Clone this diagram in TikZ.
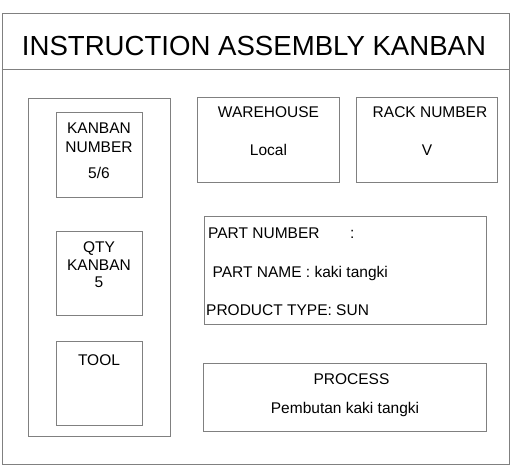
\documentclass[tikz,border=0pt]{standalone}
\usepackage{fontspec}
\setmainfont{Liberation Sans}
\begin{document}
\begin{tikzpicture}[x=1pt,y=-1pt,
  box/.style={draw=black!50, line width=1pt, inner sep=0pt, anchor=north west},
  lbl/.style={inner sep=0pt, font=\fontsize{15.5}{17}\selectfont, anchor=base},
  lblw/.style={lbl, anchor=base west}]
\useasboundingbox (0,0) rectangle (512,474);
% outer frame
\node[box, minimum width=507pt, minimum height=451pt] (frame) at (1.5,13) {};
\draw[draw=black!50, line width=1pt] (frame.west |- 0,69) coordinate (hl) -- (frame.east |- 0,69) coordinate (hr);
\node[inner sep=0pt, anchor=base, font=\fontsize{27.6}{30}\selectfont] (title) at (254,55) {INSTRUCTION ASSEMBLY KANBAN};
% left panel
\node[box, minimum width=142pt, minimum height=338pt] (left) at (28,98) {};
\node[box, minimum width=86pt, minimum height=85pt] (kn) at (56,112) {};
\node[lbl] (kn1) at (99,133) {KANBAN};
\node[lbl] (kn2) at (99,152) {NUMBER};
\node[lbl] (kn3) at (99,178) {5/6};
\node[box, minimum width=86pt, minimum height=84pt] (qty) at (56,231) {};
\node[lbl] (q1) at (99,252) {QTY};
\node[lbl] (q2) at (99,270) {KANBAN};
\node[lbl] (q3) at (99,287) {5};
\node[box, minimum width=86pt, minimum height=84pt] (tool) at (56,341) {};
\node[lbl] (t1) at (99,365) {TOOL};
% warehouse & rack
\node[box, minimum width=142pt, minimum height=85pt] (wh) at (197,97) {};
\node[lbl] (wh1) at (268.5,117) {WAREHOUSE};
\node[lbl] (wh2) at (268.5,155) {Local};
\node[box, minimum width=141pt, minimum height=85pt] (rack) at (356,97) {};
\node[lbl] (r1) at (430,117) {RACK NUMBER};
\node[lbl] (r2) at (427,155) {V};
% part info
\node[box, minimum width=282pt, minimum height=108pt] (part) at (204,216) {};
\node[lblw] (p1) at (208,238) {PART NUMBER};
\node[lblw] (p1c) at (350,238) {:};
\node[lblw] (p2) at (212.5,277) {PART NAME\ : kaki tangki};
\node[lblw] (p3) at (206,315) {PRODUCT TYPE: SUN};
% process
\node[box, minimum width=283pt, minimum height=68pt] (proc) at (203,363) {};
\node[lbl] (pr1) at (351.5,384.5) {PROCESS};
\node[lbl] (pr2) at (345,413) {Pembutan kaki tangki};
\end{tikzpicture}
\end{document}
